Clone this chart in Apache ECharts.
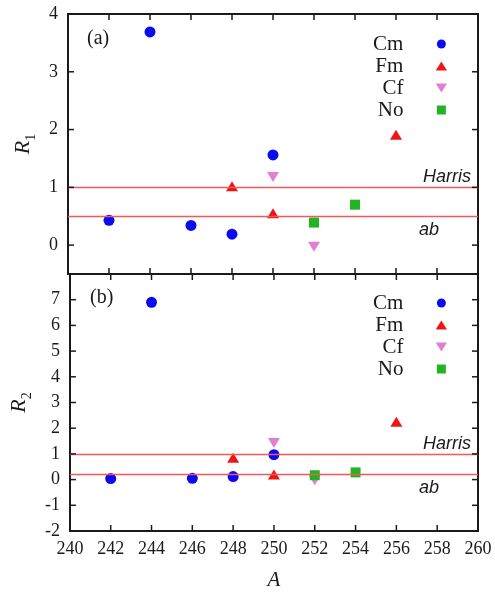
<!DOCTYPE html>
<html><head><meta charset="utf-8">
<script src="https://cdn.jsdelivr.net/npm/echarts@6/dist/echarts.min.js"></script>
<style>html,body{margin:0;padding:0;background:#fff}#c{width:495px;height:592px}</style>
</head><body><div id="c"></div>
<script>
// ---- data ----
const xTicks = [240, 242, 244, 246, 248, 250, 252, 254, 256, 258, 260];
const y1Ticks = [0, 1, 2, 3, 4];
const y2Ticks = [-2, -1, 0, 1, 2, 3, 4, 5, 6, 7];
const y1Range = [-0.5, 4];
const y2Range = [-2, 8];

const cmA = [242, 244, 246, 248, 250];
const cmR1 = [0.43, 3.69, 0.34, 0.19, 1.56];
const cmR2 = [0.04, 6.9, 0.05, 0.12, 0.97];

const fmA = [248, 250, 256];
const fmR1 = [1.02, 0.55, 1.91];
const fmR2 = [0.85, 0.2, 2.25];

const cfA = [250, 252];
const cfR1 = [1.18, -0.03];
const cfR2 = [1.42, -0.03];

const noA = [252, 254];
const noR1 = [0.39, 0.70];
const noR2 = [0.17, 0.28];

const harrisR1 = 1.0, abR1 = 0.5;
const harrisR2 = 1.0, abR2 = 0.2;

// ---- chart ----
const serif = 'Liberation Serif';
const sans = 'Liberation Sans';
const ink = '#1a1a1a';

function pts(xs, ys) { return xs.map((x, i) => [x, ys[i]]); }

const styles = {
  Cm: { symbol: 'circle', symbolSize: 11, color: '#0b0bf2' },
  Fm: { symbol: 'triangle', symbolSize: [12, 10], color: '#ee1515' },
  Cf: { symbol: 'triangle', symbolSize: [12, 10], symbolRotate: 180, color: '#e27ed4' },
  No: { symbol: 'rect', symbolSize: 10, color: '#22b422' }
};

function scatter(name, xs, ys, gi) {
  const s = styles[name];
  return {
    type: 'scatter', name: name, xAxisIndex: gi * 2, yAxisIndex: gi * 2,
    symbol: s.symbol, symbolSize: s.symbolSize, symbolRotate: s.symbolRotate || 0,
    itemStyle: { color: s.color, opacity: 1 },
    data: pts(xs, ys), z: 3, silent: true
  };
}

function refLines(gi, harris, ab) {
  const lab = { fontFamily: sans, fontStyle: 'italic', fontSize: 18, color: ink };
  return {
    type: 'line', name: 'ref' + gi, xAxisIndex: gi * 2, yAxisIndex: gi * 2, data: [], z: 1,
    markLine: {
      silent: true, symbol: 'none', animation: false,
      lineStyle: { color: '#f05a5a', width: 1.3, type: 'solid' },
      data: [
        { yAxis: harris, label: Object.assign({ show: true, formatter: 'Harris', position: 'insideEndTop', distance: [7, 1] }, lab) },
        { yAxis: ab, label: Object.assign({ show: true, formatter: 'ab', position: 'insideEndBottom', distance: [39, 5] }, lab) }
      ]
    }
  };
}

function axisLineOpt() { return { show: true, onZero: false, lineStyle: { color: ink, width: 2 } }; }
function labelOpt(show, margin, values) {
  const l = { show: show, margin: margin, fontFamily: serif, fontSize: 18, color: ink };
  if (values) l.customValues = values;
  return l;
}

function xAxis(gi, pos, showLabel) {
  const ax = {
    type: 'value', gridIndex: gi, position: pos, min: xTicks[0], max: xTicks[xTicks.length - 1],
    interval: xTicks[1] - xTicks[0],
    axisLine: axisLineOpt(), axisTick: { show: false }, splitLine: { show: false },
    axisLabel: labelOpt(showLabel, 9)
  };
  if (showLabel) {
    ax.name = 'A'; ax.nameLocation = 'middle'; ax.nameGap = 39;
    ax.nameTextStyle = { fontFamily: serif, fontStyle: 'italic', fontSize: 21, color: ink };
  }
  return ax;
}

function yAxis(gi, pos, range, ticks, showLabel, sub) {
  const ax = {
    type: 'value', gridIndex: gi, position: pos, min: range[0], max: range[1],
    axisLine: axisLineOpt(), splitLine: { show: false },
    axisTick: { show: false },
    axisLabel: labelOpt(showLabel, 10, ticks)
  };
  if (showLabel) {
    ax.name = '{r|R}{s|' + sub + '}';
    ax.nameLocation = 'middle'; ax.nameRotate = 90; ax.nameGap = 30;
    ax.nameTextStyle = {
      rich: {
        r: { fontFamily: serif, fontStyle: 'italic', fontSize: 22, color: ink },
        s: { fontFamily: serif, fontSize: 14, color: ink, verticalAlign: 'bottom', lineHeight: 30 }
      }
    };
  }
  return ax;
}

function legendOpt(top) {
  return {
    top: top, orient: 'vertical', align: 'right', right: 48, padding: 0, itemGap: 0,
    itemWidth: 66, itemHeight: 9, selectedMode: false,
    textStyle: { fontFamily: serif, fontSize: 21, color: ink, lineHeight: 22 },
    data: [
      { name: 'Cm', icon: 'circle' },
      { name: 'Fm', icon: 'path://M5,0L10,8L0,8Z' },
      { name: 'Cf', icon: 'path://M0,0L10,0L5,8Z' },
      { name: 'No', icon: 'path://M0,0L10,0L10,10L0,10Z' }
    ]
  };
}

const panelTexts = [
  { type: 'text', id: 'pa', left: 87, top: 29, z: 50, style: { text: '(a)', font: '20px "Liberation Serif"', fill: ink } },
  { type: 'text', id: 'pb', left: 90, top: 288, z: 50, style: { text: '(b)', font: '20px "Liberation Serif"', fill: ink } }
];

const option = {
  animation: false,
  backgroundColor: '#fff',
  grid: [
    { left: 68, right: 17, top: 14, height: 260 },
    { left: 68, right: 17, top: 274, height: 260 }
  ],
  xAxis: [xAxis(0, 'bottom', false), xAxis(0, 'top', false), xAxis(1, 'bottom', true), xAxis(1, 'top', false)],
  yAxis: [
    yAxis(0, 'left', y1Range, y1Ticks, true, '1'), yAxis(0, 'right', y1Range, y1Ticks, false),
    yAxis(1, 'left', y2Range, y2Ticks, true, '2'), yAxis(1, 'right', y2Range, y2Ticks, false)
  ],
  legend: [legendOpt(33), legendOpt(292)],
  graphic: { elements: panelTexts },
  series: [
    refLines(0, harrisR1, abR1), refLines(1, harrisR2, abR2),
    scatter('Cm', cmA, cmR1, 0), scatter('Fm', fmA, fmR1, 0), scatter('Cf', cfA, cfR1, 0), scatter('No', noA, noR1, 0),
    scatter('Cm', cmA, cmR2, 1), scatter('Fm', fmA, fmR2, 1), scatter('Cf', cfA, cfR2, 1), scatter('No', noA, noR2, 1)
  ]
};
const chart = echarts.init(document.getElementById('c'), null, { renderer: 'canvas' });
chart.setOption(option);

// inward tick marks on all four sides, positioned through each grid's own scales
function tickElements(gi, yRange, yTicks) {
  const L = 6, st = { stroke: ink, lineWidth: 1.5 };
  const x0 = xTicks[0], x1 = xTicks[xTicks.length - 1];
  const finder = { xAxisIndex: gi * 2, yAxisIndex: gi * 2 };
  const els = [];
  const bottom = chart.convertToPixel(finder, [x0, yRange[0]])[1];
  const top = chart.convertToPixel(finder, [x0, yRange[1]])[1];
  const left = chart.convertToPixel(finder, [x0, yRange[0]])[0];
  const right = chart.convertToPixel(finder, [x1, yRange[0]])[0];
  xTicks.forEach(function (v, i) {
    const px = chart.convertToPixel(finder, [v, yRange[0]])[0];
    els.push({ type: 'line', id: 'tb' + gi + '_' + i, z: 100, shape: { x1: px, y1: bottom, x2: px, y2: bottom - L }, style: st });
    els.push({ type: 'line', id: 'tt' + gi + '_' + i, z: 100, shape: { x1: px, y1: top, x2: px, y2: top + L }, style: st });
  });
  yTicks.forEach(function (v, i) {
    const py = chart.convertToPixel(finder, [x0, v])[1];
    els.push({ type: 'line', id: 'tl' + gi + '_' + i, z: 100, shape: { x1: left, y1: py, x2: left + L, y2: py }, style: st });
    els.push({ type: 'line', id: 'tr' + gi + '_' + i, z: 100, shape: { x1: right, y1: py, x2: right - L, y2: py }, style: st });
  });
  return els;
}
const tickEls = tickElements(0, y1Range, y1Ticks).concat(tickElements(1, y2Range, y2Ticks));
chart.setOption({ graphic: { elements: panelTexts.concat(tickEls) } });
</script></body></html>
